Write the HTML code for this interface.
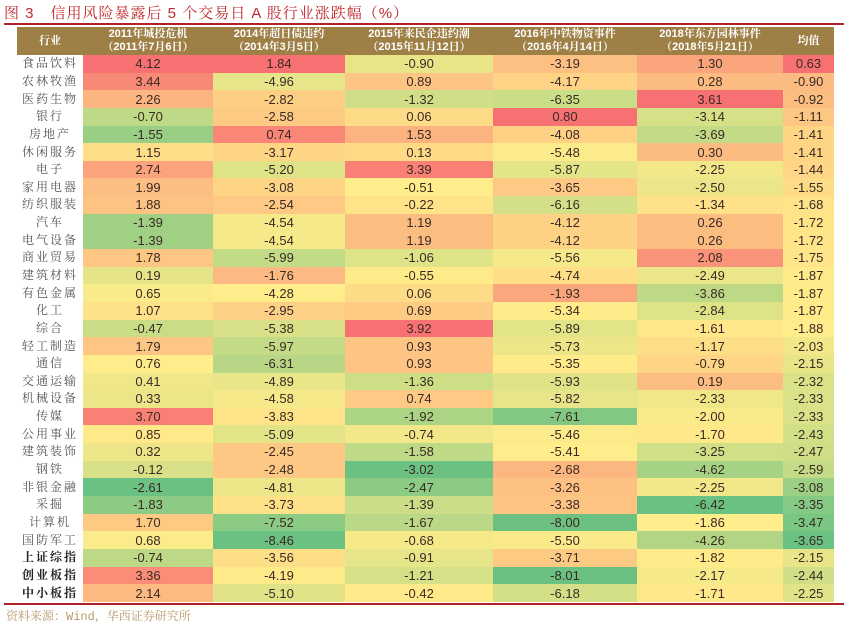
<!DOCTYPE html>
<html><head><meta charset="utf-8"><style>
body{margin:0;width:850px;height:630px;background:#fff;position:relative;overflow:hidden;font-family:"Liberation Sans","Noto Serif CJK SC",serif;}
#title{position:absolute;left:4px;top:2px;font-size:15px;color:#c0282d;font-family:"Liberation Sans","Noto Serif CJK SC",serif;letter-spacing:1px;}
.line{position:absolute;left:4px;width:840px;height:2px;background:#b22028;}
table{position:absolute;left:17px;top:27px;border-collapse:collapse;table-layout:fixed;}
td{padding:0;text-align:center;font-size:13px;color:#3a2a25;height:17.65px;line-height:17px;overflow:hidden;white-space:nowrap;border:0;}
th{background:#9e7f45;color:#fff;font-size:11px;font-weight:bold;height:28px;line-height:13px;padding:0;font-family:"Liberation Sans","Noto Serif CJK SC",serif;}
td.n{font-size:12px;color:#555;font-family:"Liberation Sans","Noto Serif CJK SC",serif;letter-spacing:2px;}
td.b{font-weight:bold;color:#222;}
#src{position:absolute;left:6px;top:607px;font-size:12px;color:#b89a6a;font-family:"Liberation Mono","Noto Serif CJK SC",monospace;}
</style></head><body>
<div id="title">图 3　信用风险暴露后 5 个交易日 A 股行业涨跌幅（%）</div>
<div class="line" style="top:23px"></div>
<table id="t">
<colgroup><col style="width:66px"><col style="width:130px"><col style="width:132px"><col style="width:148px"><col style="width:144px"><col style="width:146px"><col style="width:51px"></colgroup>
<thead><tr><th>行业</th><th>2011年城投危机<br>（2011年7月6日）</th><th>2014年超日债违约<br>（2014年3月5日）</th><th>2015年来民企违约潮<br>（2015年11月12日）</th><th>2016年中铁物资事件<br>（2016年4月14日）</th><th>2018年东方园林事件<br>（2018年5月21日）</th><th>均值</th></tr></thead>
<tbody id="tb"></tbody></table>
<div class="line" style="top:603px"></div>
<div id="src">资料来源：Wind，华西证券研究所</div>
<script>
var d=[["食品饮料",4.12,1.84,-0.90,-3.19,1.30,0.63],["农林牧渔",3.44,-4.96,0.89,-4.17,0.28,-0.90],["医药生物",2.26,-2.82,-1.32,-6.35,3.61,-0.92],["银行",-0.70,-2.58,0.06,0.80,-3.14,-1.11],["房地产",-1.55,0.74,1.53,-4.08,-3.69,-1.41],["休闲服务",1.15,-3.17,0.13,-5.48,0.30,-1.41],["电子",2.74,-5.20,3.39,-5.87,-2.25,-1.44],["家用电器",1.99,-3.08,-0.51,-3.65,-2.50,-1.55],["纺织服装",1.88,-2.54,-0.22,-6.16,-1.34,-1.68],["汽车",-1.39,-4.54,1.19,-4.12,0.26,-1.72],["电气设备",-1.39,-4.54,1.19,-4.12,0.26,-1.72],["商业贸易",1.78,-5.99,-1.06,-5.56,2.08,-1.75],["建筑材料",0.19,-1.76,-0.55,-4.74,-2.49,-1.87],["有色金属",0.65,-4.28,0.06,-1.93,-3.86,-1.87],["化工",1.07,-2.95,0.69,-5.34,-2.84,-1.87],["综合",-0.47,-5.38,3.92,-5.89,-1.61,-1.88],["轻工制造",1.79,-5.97,0.93,-5.73,-1.17,-2.03],["通信",0.76,-6.31,0.93,-5.35,-0.79,-2.15],["交通运输",0.41,-4.89,-1.36,-5.93,0.19,-2.32],["机械设备",0.33,-4.58,0.74,-5.82,-2.33,-2.33],["传媒",3.70,-3.83,-1.92,-7.61,-2.00,-2.33],["公用事业",0.85,-5.09,-0.74,-5.46,-1.70,-2.43],["建筑装饰",0.32,-2.45,-1.58,-5.41,-3.25,-2.47],["钢铁",-0.12,-2.48,-3.02,-2.68,-4.62,-2.59],["非银金融",-2.61,-4.81,-2.47,-3.26,-2.25,-3.08],["采掘",-1.83,-3.73,-1.39,-3.38,-6.42,-3.35],["计算机",1.70,-7.52,-1.67,-8.00,-1.86,-3.47],["国防军工",0.68,-8.46,-0.68,-5.50,-4.26,-3.65],["上证综指",-0.74,-3.56,-0.91,-3.71,-1.82,-2.15],["创业板指",3.36,-4.19,-1.21,-8.01,-2.17,-2.44],["中小板指",2.14,-5.10,-0.42,-6.18,-1.71,-2.25]];
var G=[99,190,123],Y=[255,235,132],R=[248,105,107];
function mix(a,b,t){return a.map(function(v,i){return Math.round(v+(b[i]-v)*t)});}
var sc=[];
for(var c=1;c<=6;c++){var v=d.map(function(r){return r[c]}).sort(function(a,b){return a-b});var n=v.length;var med=n%2?v[(n-1)/2]:(v[n/2-1]+v[n/2])/2;sc[c]={min:v[0],max:v[n-1],med:med};}
var h="";
d.forEach(function(r,i){h+="<tr><td class='n"+(i>=28?" b":"")+"'>"+r[0]+"</td>";
for(var c=1;c<=6;c++){var s=sc[c],x=r[c],col;
if(x<=s.med)col=mix(G,Y,(x-s.min)/(s.med-s.min));else col=mix(Y,R,(x-s.med)/(s.max-s.med));
col=col.map(function(v){return Math.round(v*0.95+255*0.05)});
h+="<td style='background:rgb("+col.join(",")+")'>"+x.toFixed(2)+"</td>";}
h+="</tr>";});
document.getElementById("tb").innerHTML=h;
</script>
</body></html>
